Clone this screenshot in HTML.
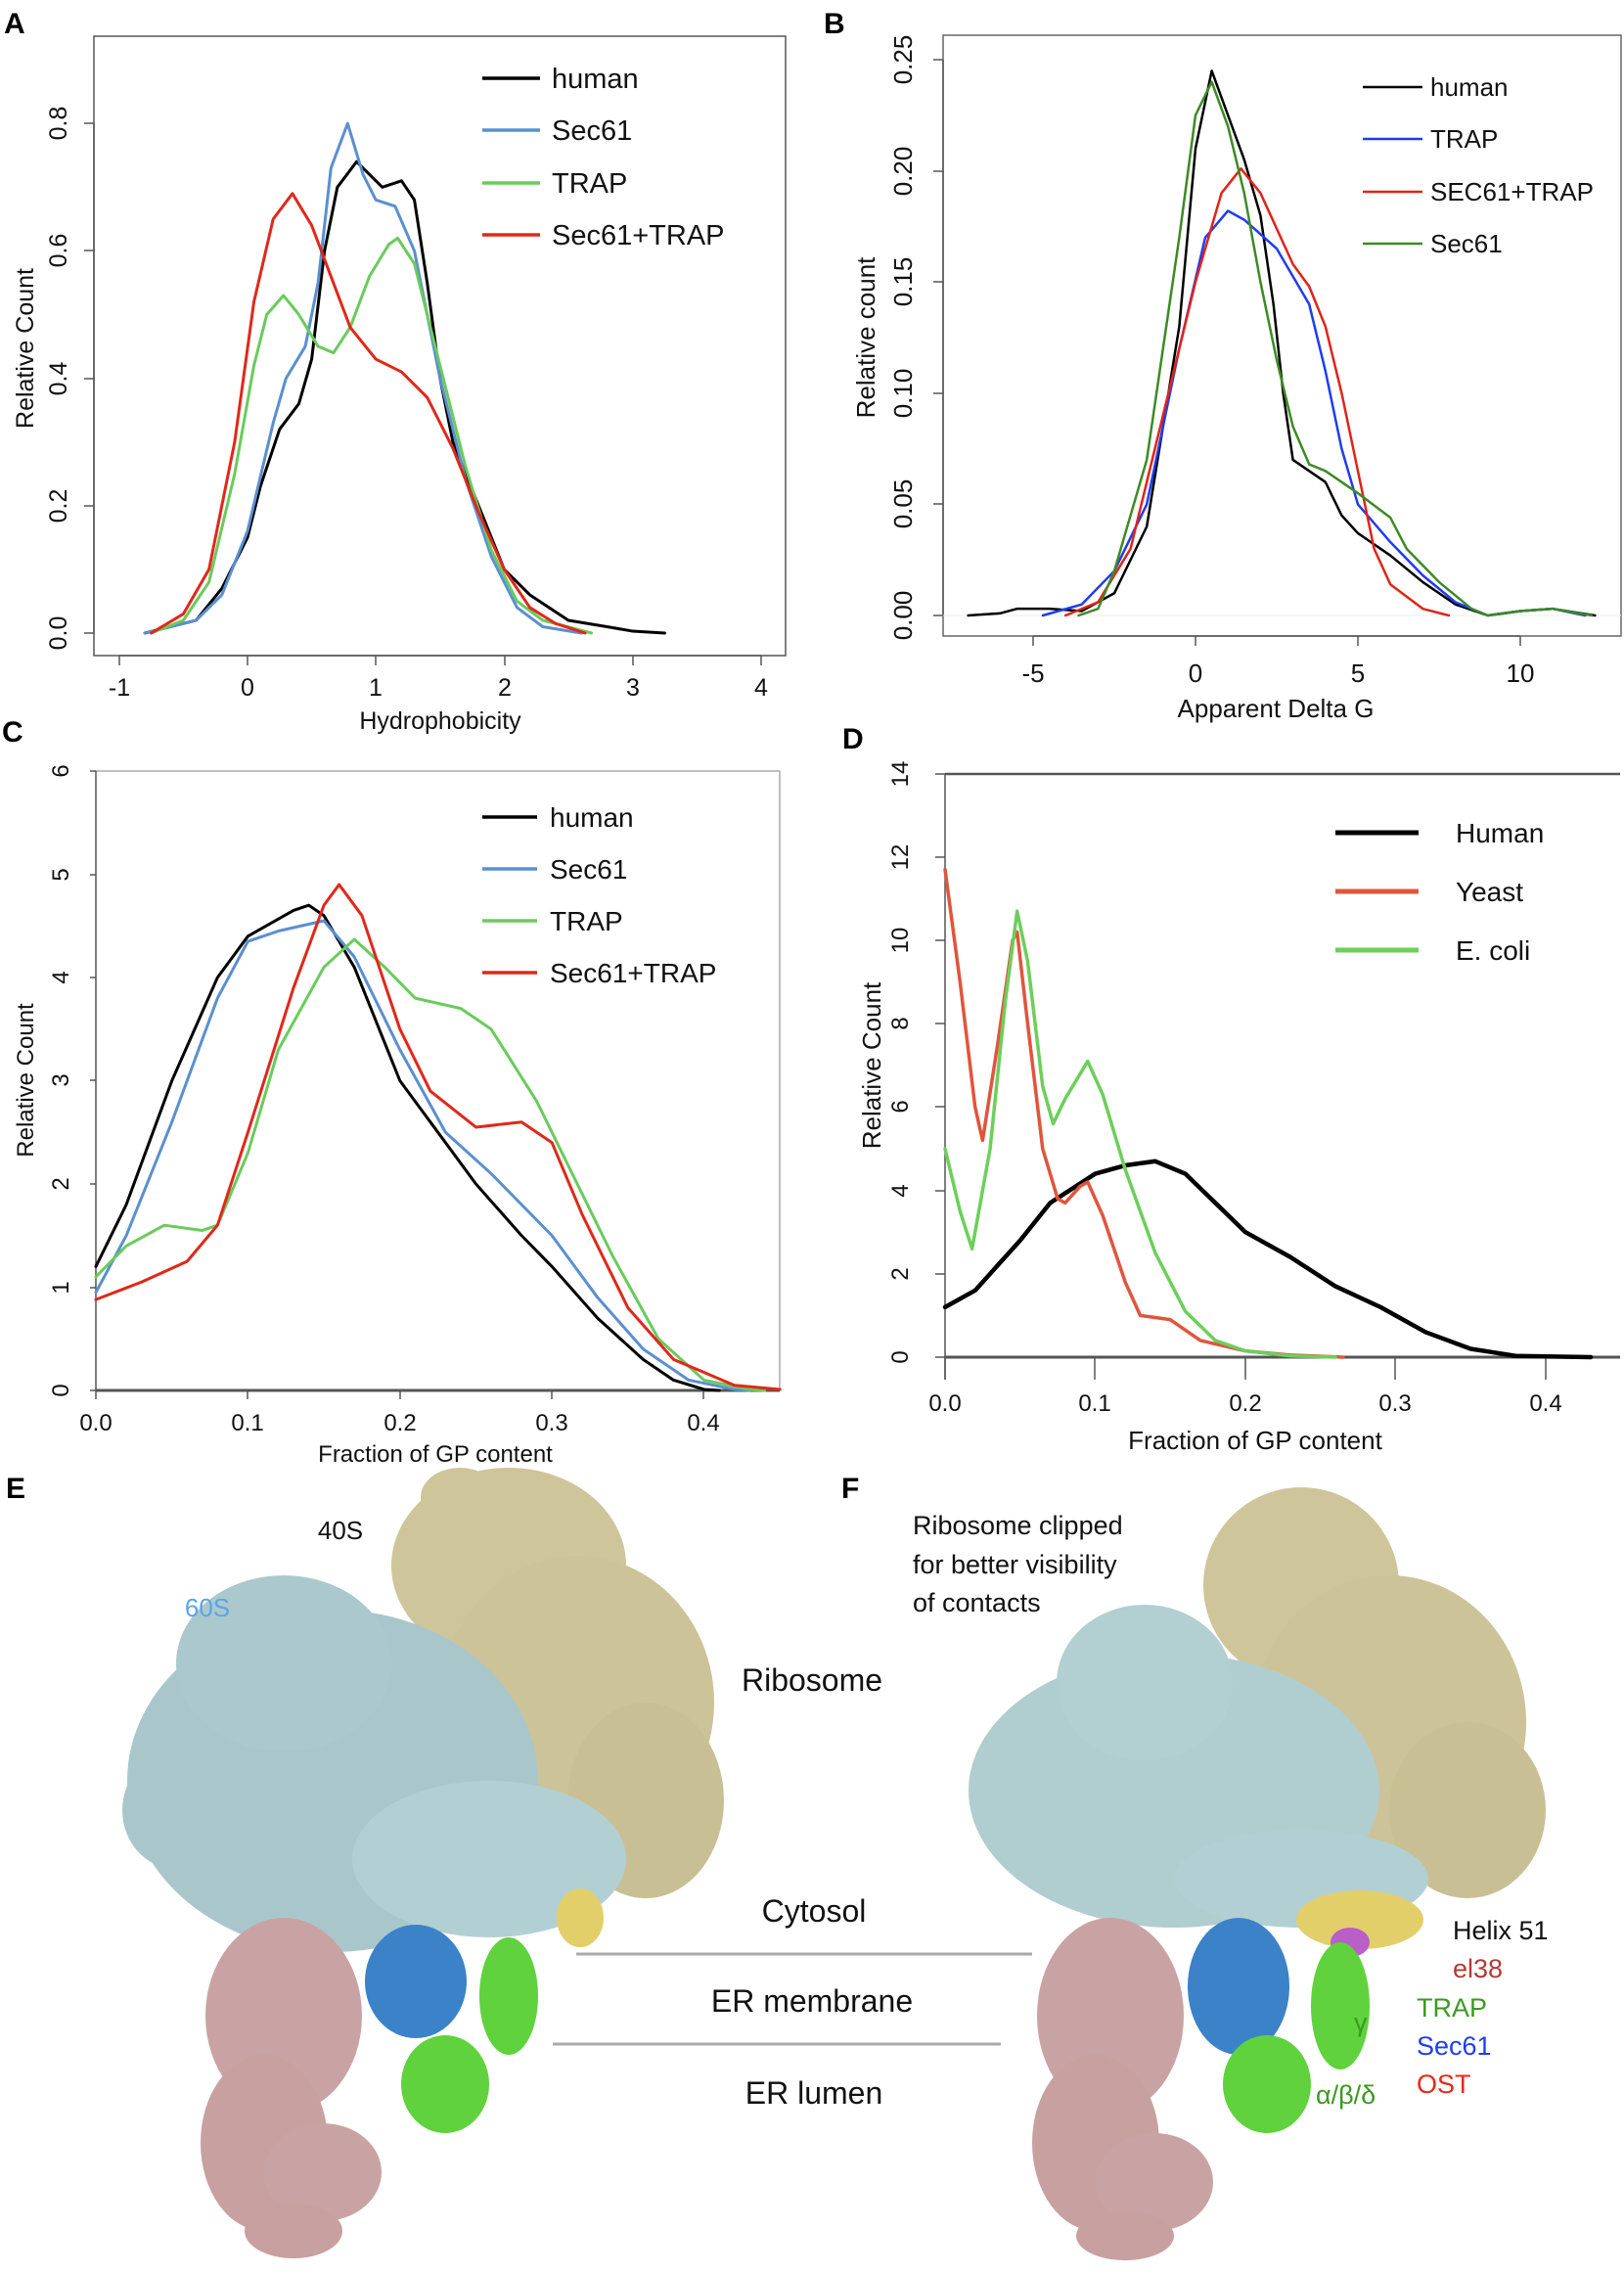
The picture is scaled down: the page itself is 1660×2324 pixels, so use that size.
<!DOCTYPE html>
<html><head><meta charset="utf-8"><style>
html,body{margin:0;padding:0;background:#fff}
svg{display:block}
text{font-family:"Liberation Sans",sans-serif}
.p{fill:none;stroke-width:3;stroke-linejoin:round;stroke-linecap:round}
</style></head><body>
<svg width="1660" height="2324" viewBox="0 0 1660 2324" xmlns="http://www.w3.org/2000/svg">
<rect width="1660" height="2324" fill="#fff"/>

<g font-weight="bold" font-size="30" fill="#000">
<text x="4" y="34">A</text>
<text x="842" y="34">B</text>
<text x="2" y="758">C</text>
<text x="861" y="765">D</text>
<text x="6" y="1531">E</text>
<text x="860" y="1531">F</text>
</g>

<!-- ===== Panel A ===== -->
<rect x="96" y="37" width="707" height="633" fill="none" stroke="#555" stroke-width="1.5"/>
<g stroke="#555" stroke-width="1.5">
<line x1="122" y1="670" x2="778" y2="670"/>
<line x1="122" y1="670" x2="122" y2="680"/><line x1="253" y1="670" x2="253" y2="680"/><line x1="384" y1="670" x2="384" y2="680"/><line x1="516" y1="670" x2="516" y2="680"/><line x1="647" y1="670" x2="647" y2="680"/><line x1="778" y1="670" x2="778" y2="680"/>
<line x1="96" y1="647" x2="96" y2="126"/>
<line x1="86" y1="647" x2="96" y2="647"/><line x1="86" y1="517" x2="96" y2="517"/><line x1="86" y1="387" x2="96" y2="387"/><line x1="86" y1="256" x2="96" y2="256"/><line x1="86" y1="126" x2="96" y2="126"/>
</g>
<g font-size="25" fill="#111" text-anchor="middle">
<text x="122" y="711">-1</text><text x="253" y="711">0</text><text x="384" y="711">1</text><text x="516" y="711">2</text><text x="647" y="711">3</text><text x="778" y="711">4</text>
<text transform="translate(68,647) rotate(-90)">0.0</text>
<text transform="translate(68,517) rotate(-90)">0.2</text>
<text transform="translate(68,387) rotate(-90)">0.4</text>
<text transform="translate(68,256) rotate(-90)">0.6</text>
<text transform="translate(68,126) rotate(-90)">0.8</text>
<text x="450" y="745">Hydrophobicity</text>
<text transform="translate(34,356) rotate(-90)">Relative Count</text>
</g>
<g transform="translate(253,647) scale(131.2,-651)">
<polyline class="p" vector-effect="non-scaling-stroke" stroke="#000" points="-0.8,0 -0.4,0.02 -0.2,0.07 0,0.15 0.1,0.23 0.25,0.32 0.4,0.36 0.5,0.43 0.6,0.6 0.7,0.7 0.85,0.74 0.95,0.72 1.05,0.7 1.2,0.71 1.3,0.68 1.4,0.55 1.5,0.4 1.6,0.3 1.8,0.2 2.0,0.1 2.2,0.06 2.35,0.04 2.5,0.02 2.8,0.01 3.0,0.003 3.25,0"/>
<polyline class="p" vector-effect="non-scaling-stroke" stroke="#5b8fd0" points="-0.8,0 -0.4,0.02 -0.2,0.06 0,0.16 0.2,0.33 0.3,0.4 0.45,0.45 0.55,0.55 0.65,0.73 0.78,0.8 0.9,0.72 1.0,0.68 1.15,0.67 1.3,0.6 1.5,0.4 1.7,0.24 1.9,0.12 2.1,0.04 2.3,0.01 2.6,0"/>
<polyline class="p" vector-effect="non-scaling-stroke" stroke="#6acb5c" points="-0.75,0 -0.5,0.02 -0.3,0.08 -0.1,0.25 0.05,0.42 0.15,0.5 0.28,0.53 0.4,0.5 0.55,0.45 0.67,0.44 0.8,0.48 0.95,0.56 1.1,0.61 1.17,0.62 1.3,0.58 1.5,0.42 1.7,0.26 1.9,0.13 2.1,0.05 2.3,0.02 2.68,0"/>
<polyline class="p" vector-effect="non-scaling-stroke" stroke="#e0281a" points="-0.75,0 -0.5,0.03 -0.3,0.1 -0.1,0.3 0.05,0.52 0.2,0.65 0.35,0.69 0.5,0.64 0.65,0.56 0.8,0.48 1.0,0.43 1.2,0.41 1.4,0.37 1.6,0.29 1.8,0.19 2.0,0.1 2.2,0.04 2.4,0.015 2.63,0"/>
</g>
<g stroke-width="3.5">
<line x1="493" y1="80" x2="552" y2="80" stroke="#000"/>
<line x1="493" y1="133" x2="552" y2="133" stroke="#5b8fd0"/>
<line x1="493" y1="187" x2="552" y2="187" stroke="#6acb5c"/>
<line x1="493" y1="240" x2="552" y2="240" stroke="#e0281a"/>
</g>
<g font-size="29" fill="#111">
<text x="564" y="90">human</text><text x="564" y="143">Sec61</text><text x="564" y="197">TRAP</text><text x="564" y="250">Sec61+TRAP</text>
</g>

<!-- ===== Panel B ===== -->
<rect x="964" y="36" width="693" height="614" fill="none" stroke="#666" stroke-width="1.5"/>
<g stroke="#555" stroke-width="1.5">
<line x1="1056" y1="650" x2="1554" y2="650"/>
<line x1="1056" y1="650" x2="1056" y2="660"/><line x1="1222" y1="650" x2="1222" y2="660"/><line x1="1388" y1="650" x2="1388" y2="660"/><line x1="1554" y1="650" x2="1554" y2="660"/>
<line x1="964" y1="629" x2="964" y2="61"/>
<line x1="954" y1="629" x2="964" y2="629"/><line x1="954" y1="515" x2="964" y2="515"/><line x1="954" y1="402" x2="964" y2="402"/><line x1="954" y1="288" x2="964" y2="288"/><line x1="954" y1="175" x2="964" y2="175"/><line x1="954" y1="61" x2="964" y2="61"/>
</g>
<line x1="964" y1="629" x2="1657" y2="629" stroke="#eee" stroke-width="1"/>
<g font-size="26" fill="#111" text-anchor="middle">
<text x="1056" y="697">-5</text><text x="1222" y="697">0</text><text x="1388" y="697">5</text><text x="1554" y="697">10</text>
<text transform="translate(932,629) rotate(-90)">0.00</text>
<text transform="translate(932,515) rotate(-90)">0.05</text>
<text transform="translate(932,402) rotate(-90)">0.10</text>
<text transform="translate(932,288) rotate(-90)">0.15</text>
<text transform="translate(932,175) rotate(-90)">0.20</text>
<text transform="translate(932,61) rotate(-90)">0.25</text>
<text x="1304" y="733">Apparent Delta G</text>
<text transform="translate(894,345) rotate(-90)">Relative count</text>
</g>
<g transform="translate(1222,629) scale(33.2,-2272)">
<polyline class="p" vector-effect="non-scaling-stroke" stroke="#000" style="stroke-width:2.5" points="-7,0 -6,0.001 -5.5,0.003 -4.5,0.003 -3.5,0.002 -2.5,0.01 -1.5,0.04 -0.5,0.13 0,0.21 0.5,0.245 1,0.225 1.5,0.205 2,0.18 2.4,0.14 2.7,0.1 3,0.07 3.5,0.065 4,0.06 4.5,0.045 5,0.037 6,0.027 7,0.015 8,0.005 9,0 10,0.002 11,0.003 12.3,0"/>
<polyline class="p" vector-effect="non-scaling-stroke" stroke="#1f3cf0" style="stroke-width:2.5" points="-4.7,0 -3.5,0.005 -2.5,0.02 -1.5,0.05 -0.5,0.12 0.3,0.17 1,0.182 1.5,0.178 2.5,0.165 3.5,0.14 4,0.11 4.5,0.075 5,0.05 6,0.033 7,0.018 8,0.006 9,0 10,0.002 11,0.003 12,0"/>
<polyline class="p" vector-effect="non-scaling-stroke" stroke="#e02418" style="stroke-width:2.5" points="-4,0 -3,0.006 -2,0.03 -1,0.09 0,0.15 0.8,0.19 1.4,0.201 2,0.19 3,0.158 3.5,0.148 4,0.13 4.5,0.1 5,0.065 5.5,0.03 6,0.014 7,0.003 7.8,0"/>
<polyline class="p" vector-effect="non-scaling-stroke" stroke="#3d8a25" style="stroke-width:2.5" points="-3.6,0 -3,0.003 -2.5,0.02 -1.5,0.07 -0.5,0.17 0,0.225 0.5,0.24 1,0.22 1.5,0.19 2,0.15 2.5,0.115 3,0.085 3.5,0.068 4,0.065 5,0.055 6,0.044 6.5,0.03 7.5,0.015 8.5,0.003 9,0 10,0.002 11,0.003 12.2,0"/>
</g>
<g stroke-width="2.5">
<line x1="1393" y1="89" x2="1454" y2="89" stroke="#000"/>
<line x1="1393" y1="142" x2="1454" y2="142" stroke="#1f3cf0"/>
<line x1="1393" y1="196" x2="1454" y2="196" stroke="#e02418"/>
<line x1="1393" y1="249" x2="1454" y2="249" stroke="#3d8a25"/>
</g>
<g font-size="26" fill="#111">
<text x="1462" y="98">human</text><text x="1462" y="151">TRAP</text><text x="1462" y="205">SEC61+TRAP</text><text x="1462" y="258">Sec61</text>
</g>

<!-- ===== Panel C ===== -->
<g stroke="#555" stroke-width="1.5">
<line x1="98" y1="788" x2="797" y2="788" stroke="#aaa"/>
<line x1="797" y1="788" x2="797" y2="1421" stroke="#aaa"/>
<line x1="98" y1="788" x2="98" y2="1421"/>
<line x1="98" y1="1421" x2="797" y2="1421" stroke-width="3"/>
<line x1="98" y1="1421" x2="98" y2="1430"/><line x1="253" y1="1421" x2="253" y2="1430"/><line x1="409" y1="1421" x2="409" y2="1430"/><line x1="564" y1="1421" x2="564" y2="1430"/><line x1="719" y1="1421" x2="719" y2="1430"/>
<line x1="92" y1="1421" x2="98" y2="1421"/><line x1="92" y1="1316" x2="98" y2="1316"/><line x1="92" y1="1210" x2="98" y2="1210"/><line x1="92" y1="1104" x2="98" y2="1104"/><line x1="92" y1="999" x2="98" y2="999"/><line x1="92" y1="894" x2="98" y2="894"/><line x1="92" y1="788" x2="98" y2="788"/>
</g>
<g font-size="24" fill="#111" text-anchor="middle">
<text x="98" y="1462">0.0</text><text x="253" y="1462">0.1</text><text x="409" y="1462">0.2</text><text x="564" y="1462">0.3</text><text x="719" y="1462">0.4</text>
<text transform="translate(70,1421) rotate(-90)">0</text>
<text transform="translate(70,1316) rotate(-90)">1</text>
<text transform="translate(70,1210) rotate(-90)">2</text>
<text transform="translate(70,1104) rotate(-90)">3</text>
<text transform="translate(70,999) rotate(-90)">4</text>
<text transform="translate(70,894) rotate(-90)">5</text>
<text transform="translate(70,788) rotate(-90)">6</text>
<text x="445" y="1494">Fraction of GP content</text>
<text transform="translate(34,1104) rotate(-90)">Relative Count</text>
</g>
<g transform="translate(98,1421) scale(1554,-105.5)">
<polyline class="p" vector-effect="non-scaling-stroke" stroke="#000" points="0,1.2 0.02,1.8 0.05,3.0 0.08,4.0 0.1,4.4 0.13,4.65 0.14,4.7 0.15,4.6 0.17,4.1 0.2,3.0 0.22,2.6 0.25,2.0 0.28,1.5 0.3,1.2 0.33,0.7 0.36,0.3 0.38,0.1 0.4,0.01 0.41,0"/>
<polyline class="p" vector-effect="non-scaling-stroke" stroke="#5b8fd0" points="0,0.95 0.02,1.5 0.05,2.6 0.08,3.8 0.1,4.35 0.12,4.45 0.15,4.55 0.17,4.2 0.2,3.3 0.23,2.5 0.26,2.1 0.3,1.5 0.33,0.9 0.36,0.4 0.39,0.1 0.42,0.01 0.43,0"/>
<polyline class="p" vector-effect="non-scaling-stroke" stroke="#6acb5c" points="0,1.1 0.02,1.4 0.045,1.6 0.07,1.55 0.08,1.6 0.1,2.3 0.12,3.3 0.15,4.1 0.17,4.37 0.19,4.1 0.21,3.8 0.24,3.7 0.26,3.5 0.29,2.8 0.31,2.2 0.34,1.3 0.37,0.5 0.4,0.1 0.43,0.01 0.44,0"/>
<polyline class="p" vector-effect="non-scaling-stroke" stroke="#e0281a" points="0,0.88 0.03,1.05 0.06,1.25 0.08,1.6 0.1,2.5 0.13,3.9 0.15,4.7 0.16,4.9 0.175,4.6 0.2,3.5 0.22,2.9 0.25,2.55 0.28,2.6 0.3,2.4 0.32,1.7 0.35,0.8 0.38,0.3 0.42,0.05 0.45,0.01"/>
</g>
<g stroke-width="3.5">
<line x1="493" y1="835" x2="549" y2="835" stroke="#000"/>
<line x1="493" y1="888" x2="549" y2="888" stroke="#5b8fd0"/>
<line x1="493" y1="941" x2="549" y2="941" stroke="#6acb5c"/>
<line x1="493" y1="994" x2="549" y2="994" stroke="#e0281a"/>
</g>
<g font-size="28" fill="#111">
<text x="562" y="845">human</text><text x="562" y="898">Sec61</text><text x="562" y="951">TRAP</text><text x="562" y="1004">Sec61+TRAP</text>
</g>

<!-- ===== Panel D ===== -->
<g stroke="#555" stroke-width="1.5">
<line x1="966" y1="791" x2="1656" y2="791" stroke-width="2.5"/>
<line x1="966" y1="791" x2="966" y2="1410"/>
<line x1="966" y1="1387" x2="1656" y2="1387" stroke-width="3"/>
<line x1="966" y1="1387" x2="966" y2="1410"/><line x1="1119" y1="1387" x2="1119" y2="1410"/><line x1="1273" y1="1387" x2="1273" y2="1410"/><line x1="1426" y1="1387" x2="1426" y2="1410"/><line x1="1580" y1="1387" x2="1580" y2="1410"/>
<line x1="956" y1="1387" x2="966" y2="1387"/><line x1="956" y1="1302" x2="966" y2="1302"/><line x1="956" y1="1217" x2="966" y2="1217"/><line x1="956" y1="1131" x2="966" y2="1131"/><line x1="956" y1="1046" x2="966" y2="1046"/><line x1="956" y1="961" x2="966" y2="961"/><line x1="956" y1="876" x2="966" y2="876"/><line x1="956" y1="791" x2="966" y2="791"/>
</g>
<g font-size="24" fill="#111" text-anchor="middle">
<text x="966" y="1442">0.0</text><text x="1119" y="1442">0.1</text><text x="1273" y="1442">0.2</text><text x="1426" y="1442">0.3</text><text x="1580" y="1442">0.4</text>
<text transform="translate(928,1387) rotate(-90)">0</text>
<text transform="translate(928,1302) rotate(-90)">2</text>
<text transform="translate(928,1217) rotate(-90)">4</text>
<text transform="translate(928,1131) rotate(-90)">6</text>
<text transform="translate(928,1046) rotate(-90)">8</text>
<text transform="translate(928,961) rotate(-90)">10</text>
<text transform="translate(928,876) rotate(-90)">12</text>
<text transform="translate(928,791) rotate(-90)">14</text>
<text x="1283" y="1481" font-size="26">Fraction of GP content</text>
<text transform="translate(900,1089) rotate(-90)" font-size="26">Relative Count</text>
</g>
<g transform="translate(966,1387) scale(1535,-42.6)">
<polyline class="p" vector-effect="non-scaling-stroke" stroke="#000" style="stroke-width:4.5" points="0,1.2 0.02,1.6 0.05,2.8 0.07,3.7 0.1,4.4 0.12,4.6 0.14,4.7 0.16,4.4 0.18,3.7 0.2,3.0 0.23,2.4 0.26,1.7 0.29,1.2 0.32,0.6 0.35,0.2 0.38,0.03 0.43,0"/>
<polyline class="p" vector-effect="non-scaling-stroke" stroke="#e0553c" style="stroke-width:3.5" points="0,11.7 0.01,9 0.02,6 0.025,5.2 0.035,7.5 0.045,10 0.048,10.2 0.055,8 0.065,5 0.075,3.8 0.08,3.7 0.09,4.1 0.095,4.2 0.105,3.4 0.12,1.8 0.13,1.0 0.15,0.9 0.17,0.4 0.2,0.15 0.23,0.05 0.265,0"/>
<polyline class="p" vector-effect="non-scaling-stroke" stroke="#6ccf5a" style="stroke-width:3.5" points="0,5 0.01,3.5 0.018,2.6 0.03,5 0.04,8.5 0.048,10.7 0.055,9.5 0.065,6.5 0.072,5.6 0.08,6.2 0.095,7.1 0.105,6.3 0.12,4.5 0.14,2.5 0.16,1.1 0.18,0.4 0.2,0.15 0.23,0.03 0.26,0"/>
</g>
<g stroke-width="5">
<line x1="1365" y1="851" x2="1450" y2="851" stroke="#000"/>
<line x1="1365" y1="911" x2="1450" y2="911" stroke="#e0553c"/>
<line x1="1365" y1="971" x2="1450" y2="971" stroke="#6ccf5a"/>
</g>
<g font-size="28" fill="#111">
<text x="1488" y="861">Human</text><text x="1488" y="921">Yeast</text><text x="1488" y="981">E. coli</text>
</g>

<!-- ===== Panel E ===== -->
<g>
<ellipse cx="520" cy="1600" rx="120" ry="100" fill="#cfc59b"/>
<ellipse cx="590" cy="1740" rx="140" ry="150" fill="#cdc398"/>
<ellipse cx="660" cy="1840" rx="80" ry="100" fill="#c9bf94"/>
<ellipse cx="470" cy="1530" rx="40" ry="30" fill="#cfc59b"/>
<ellipse cx="340" cy="1820" rx="210" ry="175" fill="#a9c7cb"/>
<ellipse cx="290" cy="1700" rx="110" ry="90" fill="#abc9cc"/>
<ellipse cx="500" cy="1900" rx="140" ry="80" fill="#b2d0d3"/>
<ellipse cx="180" cy="1850" rx="55" ry="60" fill="#a9c7cb"/>
<ellipse cx="593" cy="1960" rx="24" ry="30" fill="#e2cf6a"/>
<ellipse cx="290" cy="2060" rx="80" ry="100" fill="#c9a3a3"/>
<ellipse cx="270" cy="2190" rx="65" ry="90" fill="#c8a0a0"/>
<ellipse cx="330" cy="2220" rx="60" ry="50" fill="#c9a3a3"/>
<ellipse cx="300" cy="2280" rx="50" ry="28" fill="#c8a0a0"/>
<ellipse cx="425" cy="2025" rx="52" ry="58" fill="#3c82c8"/>
<ellipse cx="520" cy="2040" rx="30" ry="60" fill="#5fd23e"/>
<ellipse cx="455" cy="2130" rx="45" ry="50" fill="#5fd23e"/>
</g>
<line x1="589" y1="1997" x2="1055" y2="1997" stroke="#aaa" stroke-width="3"/>
<line x1="565" y1="2089" x2="1023" y2="2089" stroke="#aaa" stroke-width="3"/>
<g fill="#111">
<text x="348" y="1573" font-size="26" text-anchor="middle">40S</text>
<text x="212" y="1652" font-size="26" text-anchor="middle" fill="#5aa4e6">60S</text>
<text x="830" y="1728" font-size="32" text-anchor="middle">Ribosome</text>
<text x="832" y="1964" font-size="32" text-anchor="middle">Cytosol</text>
<text x="830" y="2056" font-size="32" text-anchor="middle">ER membrane</text>
<text x="832" y="2150" font-size="32" text-anchor="middle">ER lumen</text>
</g>

<!-- ===== Panel F ===== -->
<g>
<ellipse cx="1330" cy="1620" rx="100" ry="100" fill="#cfc59b"/>
<ellipse cx="1420" cy="1760" rx="140" ry="150" fill="#cdc398"/>
<ellipse cx="1500" cy="1850" rx="80" ry="90" fill="#c9bf94"/>
<ellipse cx="1200" cy="1830" rx="210" ry="140" fill="#b0cdd0"/>
<ellipse cx="1170" cy="1720" rx="90" ry="80" fill="#b2cfd2"/>
<ellipse cx="1330" cy="1920" rx="130" ry="50" fill="#b2d0d3"/>
<ellipse cx="1390" cy="1962" rx="65" ry="30" fill="#e2cf6a"/>
<ellipse cx="1380" cy="1985" rx="20" ry="15" fill="#b85fc8"/>
<ellipse cx="1135" cy="2060" rx="75" ry="100" fill="#c9a3a3"/>
<ellipse cx="1120" cy="2190" rx="65" ry="90" fill="#c8a0a0"/>
<ellipse cx="1180" cy="2230" rx="60" ry="50" fill="#c9a3a3"/>
<ellipse cx="1150" cy="2285" rx="50" ry="25" fill="#c8a0a0"/>
<ellipse cx="1266" cy="2030" rx="52" ry="70" fill="#3c82c8"/>
<ellipse cx="1370" cy="2050" rx="30" ry="65" fill="#5fd23e"/>
<ellipse cx="1295" cy="2130" rx="45" ry="50" fill="#5fd23e"/>
</g>
<g fill="#111" font-size="27">
<text x="933" y="1568">Ribosome clipped</text>
<text x="933" y="1608">for better visibility</text>
<text x="933" y="1647">of contacts</text>
<text x="1485" y="1982">Helix 51</text>
<text x="1485" y="2021" fill="#b23a36">el38</text>
<text x="1448" y="2061" fill="#3b9a20">TRAP</text>
<text x="1448" y="2100" fill="#1e3ef0">Sec61</text>
<text x="1448" y="2139" fill="#e8281a">OST</text>
<text x="1384" y="2076" fill="#3b9a20">γ</text>
<text x="1345" y="2150" fill="#3b9a20">α/β/δ</text>
</g>
</svg>
</body></html>
